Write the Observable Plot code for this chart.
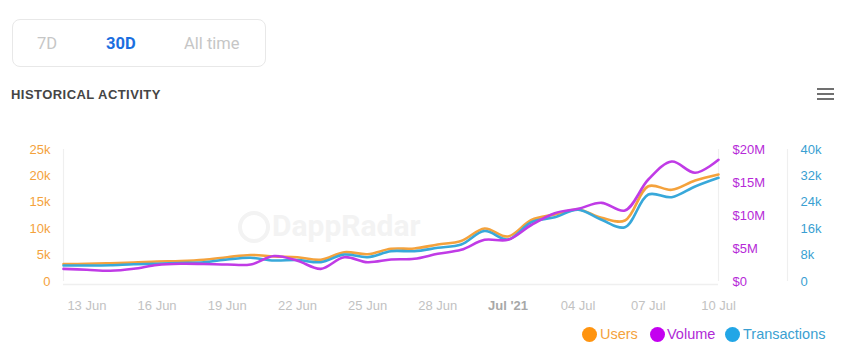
<!DOCTYPE html>
<html>
<head>
<meta charset="utf-8">
<script src="https://cdn.jsdelivr.net/npm/d3@7"></script>
<script src="https://cdn.jsdelivr.net/npm/@observablehq/plot@0.6"></script>
<style>
  html, body { margin: 0; padding: 0; background: #fff; }
  body { width: 860px; height: 352px; position: relative; overflow: hidden; font-family: "Liberation Sans", Arial, sans-serif; }
  .tabs { position: absolute; left: 12px; top: 19px; width: 252px; height: 46px; border: 1px solid #e8e8e8; border-radius: 8px; }
  .tab { position: absolute; top: 14px; font-family: Roboto, "Liberation Sans", sans-serif; font-size: 16.5px; color: #c6c6c6; }
  .title { position: absolute; left: 11px; top: 87px; font-size: 13px; font-weight: bold; color: #454545; letter-spacing: 0.45px; }
  .menu { position: absolute; left: 817px; width: 17px; height: 2px; background: #707070; }
  .wm { position: absolute; left: 238px; top: 208px; color: #f3f3f3; font-family: Roboto, sans-serif; font-weight: bold; font-size: 30px; }
  .wm .icon { position: absolute; left: 0; top: 3px; width: 24px; height: 24px; border: 4px solid #f3f3f3; border-radius: 50%; }
  .wm .txt { position: absolute; left: 34px; top: 0; white-space: nowrap; }
  #chart { position: absolute; left: 0; top: 130px; }
  .legend { position: absolute; top: 326px; font-size: 14.5px; }
  .dot { position: absolute; width: 15px; height: 15px; border-radius: 50%; top: 1px; }
  .lt { position: absolute; top: 0; white-space: nowrap; }
</style>
</head>
<body>
<div class="tabs">
  <span class="tab" style="left:24px">7D</span>
  <span class="tab" style="left:93px;color:#1b6fdf;font-weight:bold">30D</span>
  <span class="tab" style="left:171px">All time</span>
</div>
<div class="title">HISTORICAL ACTIVITY</div>
<div class="menu" style="top:88px"></div>
<div class="menu" style="top:93px"></div>
<div class="menu" style="top:98px"></div>
<div class="wm"><div class="icon"></div><div class="txt">DappRadar</div></div>
<div id="chart"></div>
<div class="legend">
  <div class="dot" style="left:582px;background:#ff9410"></div>
  <div class="lt" style="left:600px;color:#f4a23c">Users</div>
  <div class="dot" style="left:650px;background:#c400f0"></div>
  <div class="lt" style="left:667px;color:#b02ad6">Volume</div>
  <div class="dot" style="left:725px;background:#22a6e6"></div>
  <div class="lt" style="left:743px;color:#3a9fd2">Transactions</div>
</div>
<script>
// ---- data ----
const dates = ["2021-06-12","2021-06-13","2021-06-14","2021-06-15","2021-06-16","2021-06-17","2021-06-18",
  "2021-06-19","2021-06-20","2021-06-21","2021-06-22","2021-06-23","2021-06-24","2021-06-25","2021-06-26",
  "2021-06-27","2021-06-28","2021-06-29","2021-06-30","2021-07-01","2021-07-02","2021-07-03","2021-07-04",
  "2021-07-05","2021-07-06","2021-07-07","2021-07-08","2021-07-09","2021-07-10"];
const users = [3310,3350,3470,3600,3790,3880,4110,4600,5020,4730,4600,4110,5550,5170,6190,6250,7010,7670,
  10040,8520,11650,12690,13640,12060,11550,18050,17370,19130,20270];
const volume = [1.92e6,1.77e6,1.62e6,1.92e6,2.50e6,2.68e6,2.65e6,2.58e6,2.58e6,3.86e6,3.15e6,1.92e6,3.68e6,
  2.92e6,3.33e6,3.44e6,4.20e6,4.80e6,6.32e6,6.32e6,8.56e6,10.35e6,11.02e6,11.92e6,10.76e6,15.45e6,18.18e6,
  16.47e6,18.44e6];
const transactions = [4850,4850,4940,5240,5360,5610,5850,6670,7180,6360,6520,5850,8180,7360,9180,9180,10210,
  11210,15300,12730,17970,19480,21730,18700,16450,26360,25550,28790,31420];
const usersTicks = [0,5000,10000,15000,20000,25000];
const volumeTicks = [0,5e6,10e6,15e6,20e6];
const txTicks = [0,8000,16000,24000,32000,40000];
const xTicks = ["2021-06-13","2021-06-16","2021-06-19","2021-06-22","2021-06-25","2021-06-28","2021-07-04","2021-07-07","2021-07-10"];
const xBoldTick = ["2021-07-01"];
const xBoldLabel = "Jul '21";

const usersMax = 25000, volumeMax = 20e6, txMax = 40000;
const colUsers = "#f4a23c", colVolume = "#c03be6", colTx = "#38a8da";

const parse = d3.utcParse("%Y-%m-%d");
const rows = dates.map((d, i) => ({
  date: parse(d),
  users: users[i],
  volume: volume[i] * usersMax / volumeMax,
  tx: transactions[i] * usersMax / txMax
}));
const xStart = parse(dates[0]), xEnd = parse(dates[dates.length - 1]);

const chart = Plot.plot({
  width: 860,
  height: 190,
  marginLeft: 63,
  marginRight: 142,
  marginTop: 19,
  marginBottom: 39,
  style: { fontFamily: "'Liberation Sans', Arial, sans-serif", fontSize: "13px", background: "transparent" },
  x: { type: "utc", domain: [xStart, xEnd] },
  y: { domain: [0, usersMax] },
  marks: [
    Plot.ruleX([xStart], { stroke: "#efefef", strokeWidth: 1.2 }),
    Plot.ruleX([xEnd], { stroke: "#efefef", strokeWidth: 1.2 }),
    Plot.ruleX([xEnd], { stroke: "#efefef", strokeWidth: 1.2, dx: 69 }),
    Plot.ruleY([0], { stroke: "#efefef", strokeWidth: 1.5, dy: 3 }),
    Plot.axisY(usersTicks, {
      anchor: "left", tickSize: 0, tickPadding: 13, color: colUsers, fontSize: 13,
      tickFormat: d => d === 0 ? "0" : `${d / 1000}k`
    }),
    Plot.axisY(volumeTicks.map(v => v * usersMax / volumeMax), {
      anchor: "right", tickSize: 0, tickPadding: 14, color: "#b62ad8", fontSize: 13,
      tickFormat: d => { const v = Math.round(d * volumeMax / usersMax / 1e6); return v === 0 ? "$0" : `$${v}M`; }
    }),
    Plot.axisY(txTicks.map(v => v * usersMax / txMax), {
      anchor: "right", tickSize: 0, tickPadding: 82, color: "#3a9fd2", fontSize: 13,
      tickFormat: d => { const v = Math.round(d * txMax / usersMax / 1000); return v === 0 ? "0" : `${v}k`; }
    }),
    Plot.axisX(xTicks.map(parse), {
      tickSize: 0, tickPadding: 19, color: "#c2c2c2", fontSize: 13,
      tickFormat: d3.utcFormat("%d %b")
    }),
    Plot.axisX(xBoldTick.map(parse), {
      tickSize: 0, tickPadding: 19, color: "#a8a8a8", fontSize: 13, fontWeight: "bold",
      tickFormat: () => xBoldLabel
    }),
    Plot.lineY(rows, { x: "date", y: "users", stroke: colUsers, strokeWidth: 2.6, curve: "catmull-rom" }),
    Plot.lineY(rows, { x: "date", y: "tx", stroke: colTx, strokeWidth: 2.6, curve: "catmull-rom" }),
    Plot.lineY(rows, { x: "date", y: "volume", stroke: colVolume, strokeWidth: 2.6, curve: "catmull-rom" })
  ]
});
document.getElementById("chart").appendChild(chart);
</script>
</body>
</html>
